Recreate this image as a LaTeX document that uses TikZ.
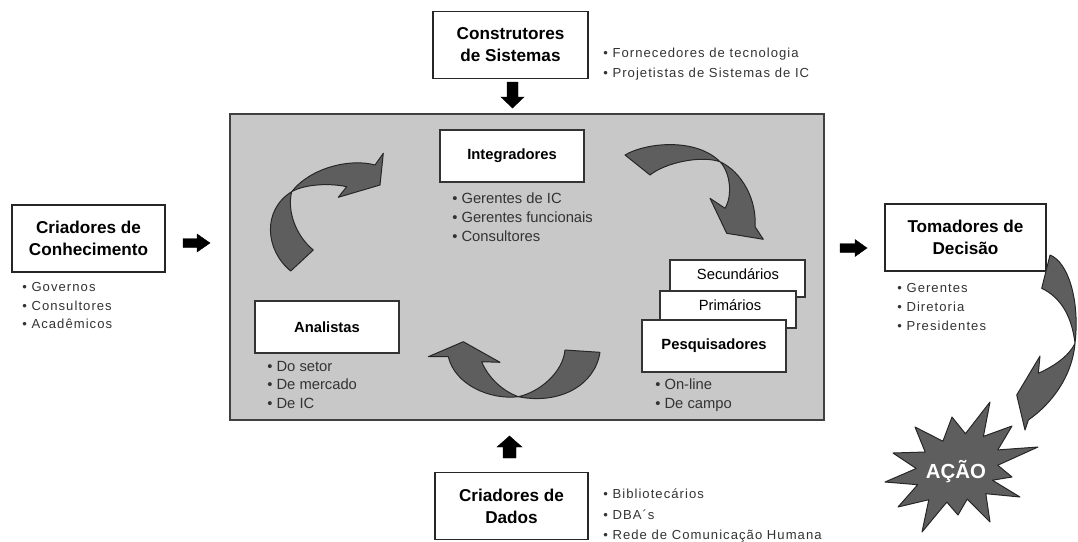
\documentclass[tikz,border=0pt]{standalone}
\usepackage{fontspec}
\setmainfont{Liberation Sans}
\newfontfamily\bulfont[LetterSpace=8]{Liberation Sans}
\definecolor{panel}{HTML}{C8C8C8}
\definecolor{arrowfill}{HTML}{5E5E5E}
\definecolor{arrowline}{HTML}{262626}
\definecolor{bultext}{HTML}{333333}
\def\px{0.025cm}
\begin{document}
\begin{tikzpicture}[x=0.025cm,y=-0.025cm,
  titlebox/.style={draw=black!85, line width=0.8pt, fill=white, inner sep=0pt, outer sep=0pt, align=center, font=\fontsize{12.2}{15.6}\selectfont\bfseries},
  innerbox/.style={draw=black!80, line width=0.8pt, fill=white, inner sep=0pt, outer sep=0pt, font=\fontsize{10.5}{12}\selectfont\bfseries},
  plainbox/.style={innerbox, font=\fontsize{10.5}{12}\selectfont},
  blist/.style={anchor=base west, inner sep=0pt, text=bultext, font=\bulfont\fontsize{9.3}{11}\selectfont},
  ilist/.style={anchor=base west, inner sep=0pt, text=bultext, font=\fontsize{10.5}{12}\selectfont},
  curvearrow/.style={fill=arrowfill, draw=arrowline, line width=0.7pt, line join=round},
  blockarrow/.style={fill=black, draw=black, line width=0.3pt}
]
\useasboundingbox (0,0) rectangle (1078,541);

% central panel
\node[draw=black!75, line width=1pt, fill=panel, minimum width={594*\px}, minimum height={306*\px}, inner sep=0pt, outer sep=0pt] (panel) at (527,267) {};

% outer boxes
\node[titlebox, minimum width={155*\px}, minimum height={67*\px}] (cs) at (510.5,45) {Construtores\\de Sistemas};
\node[titlebox, minimum width={153*\px}, minimum height={67*\px}] (cd) at (511.5,506) {Criadores de\\Dados};
\node[titlebox, minimum width={153*\px}, minimum height={67*\px}] (cc) at (88.5,238.5) {Criadores de\\Conhecimento};
\node[titlebox, minimum width={161*\px}, minimum height={67*\px}] (td) at (965.5,237.5) {Tomadores de\\Decisão};

% outer bullet lists
\node[blist] (cs1) at (603,57) {• Fornecedores de tecnologia};
\node[blist] (cs2) at (603,77) {• Projetistas de Sistemas de IC};
\node[blist] (cd1) at (603,498) {• Bibliotecários};
\node[blist] (cd2) at (603,519) {• DBA´s};
\node[blist] (cd3) at (603,539) {• Rede de Comunicação Humana};
\node[blist] (cc1) at (22,291) {• Governos};
\node[blist] (cc2) at (22,310) {• Consultores};
\node[blist] (cc3) at (22,328.5) {• Acadêmicos};
\node[blist] (td1) at (897,292) {• Gerentes};
\node[blist] (td2) at (897,311) {• Diretoria};
\node[blist] (td3) at (897,330) {• Presidentes};

% block arrows
\draw[blockarrow] (507,82) -- (518,82) -- (518,97) -- (524,97) -- (512.5,108) -- (501,97) -- (507,97) -- cycle;
\draw[blockarrow] (503,458) -- (516,458) -- (516,447) -- (522,447) -- (509.5,436) -- (497,447) -- (503,447) -- cycle;
\draw[blockarrow] (183,238.5) -- (197,238.5) -- (197,234) -- (210,243) -- (197,252) -- (197,247.5) -- (183,247.5) -- cycle;
\draw[blockarrow] (840,243.5) -- (855,243.5) -- (855,239.5) -- (867,248) -- (855,256.5) -- (855,252.5) -- (840,252.5) -- cycle;

% inner boxes
\node[innerbox, minimum width={144*\px}, minimum height={52*\px}] (ig) at (512,156) {Integradores};
\node[innerbox, minimum width={144*\px}, minimum height={52*\px}] (an) at (327,327) {Analistas};
\node[plainbox, minimum width={135*\px}, minimum height={37*\px}] (sec) at (737.5,278.5) {};
\node at (738,274.5) (sect) {\fontsize{10.5}{12}\selectfont Secundários};
\node[plainbox, minimum width={136*\px}, minimum height={37*\px}] (pri) at (728,309.5) {};
\node at (730,305) (prit) {\fontsize{10.5}{12}\selectfont Primários};
\node[innerbox, minimum width={144*\px}, minimum height={52*\px}] (pq) at (714,346) {Pesquisadores};

% inner bullet lists
\node[ilist] (ig1) at (452,203) {• Gerentes de IC};
\node[ilist] (ig2) at (452,222) {• Gerentes funcionais};
\node[ilist] (ig3) at (452,241) {• Consultores};
\node[ilist] (an1) at (267,371) {• Do setor};
\node[ilist] (an2) at (267,389.5) {• De mercado};
\node[ilist] (an3) at (267,408) {• De IC};
\node[ilist] (pq1) at (655,389.5) {• On-line};
\node[ilist] (pq2) at (655,408) {• De campo};

% curved arrows inside panel
% top-left
\draw[curvearrow] (290.7,271) .. controls (265,250) and (262,210) .. (291.7,191.7)
  .. controls (310,168) and (350,158) .. (375,165)
  -- (383.3,153.3) -- (380,185) -- (338.3,197.3) -- (346.7,186.7)
  .. controls (330,183) and (305,184) .. (291.7,191.7)
  .. controls (287,210) and (295,235) .. (313.3,250) -- cycle;
% top-right
\draw[curvearrow] (625,155) .. controls (645,143) and (695,137) .. (720,161.7)
  .. controls (742,172) and (757,200) .. (755,226.7)
  -- (763.3,239.3) -- (726.7,233.3) -- (710,198.3) -- (725,208.3)
  .. controls (733,195) and (730,172) .. (720,161.7)
  .. controls (700,155) and (665,163) .. (650,175) -- cycle;
% bottom
\draw[curvearrow] (565,350) .. controls (563,372) and (540,392) .. (518.3,396.7)
  .. controls (490,400) and (455,385) .. (448.3,356.7)
  -- (428.3,356.7) -- (463.3,341.7) -- (500,362.3) -- (481.7,361.7)
  .. controls (487,375) and (500,390) .. (518.3,396.7)
  .. controls (560,405) and (595,385) .. (600,352.3) -- cycle;
% right, towards action
\draw[curvearrow] (1050,255) .. controls (1068,262) and (1080,300) .. (1075,343.3)
  .. controls (1068,358) and (1050,368) .. (1038.3,373.3)
  -- (1040,356) -- (1016.7,395) -- (1025,430) -- (1028.3,420)
  .. controls (1050,405) and (1072,378) .. (1075,343.3)
  .. controls (1072,318) and (1062,298) .. (1041.7,288.3) -- cycle;

% action star
\draw[curvearrow] (990,402) -- (983.4,436.4) -- (1012,426) -- (997.8,449.9) -- (1038,447) -- (997.8,465.2)
  -- (1012,477) -- (992.4,480.2) -- (1020,497) -- (985.8,493.7) -- (990,522) -- (967.2,499.1)
  -- (958,515) -- (946.8,502.1) -- (922,532) -- (928.8,499.7) -- (898,507) -- (917.7,484.7)
  -- (885,482) -- (916.2,468.5) -- (893,453) -- (925.2,452) -- (915,427) -- (942.9,441.2)
  -- (952,417) -- (965.4,433.7) -- cycle;
\node[text=white, font=\fontsize{14.5}{16}\selectfont\bfseries] (acao) at (956,472) {AÇÃO};
\end{tikzpicture}
\end{document}
